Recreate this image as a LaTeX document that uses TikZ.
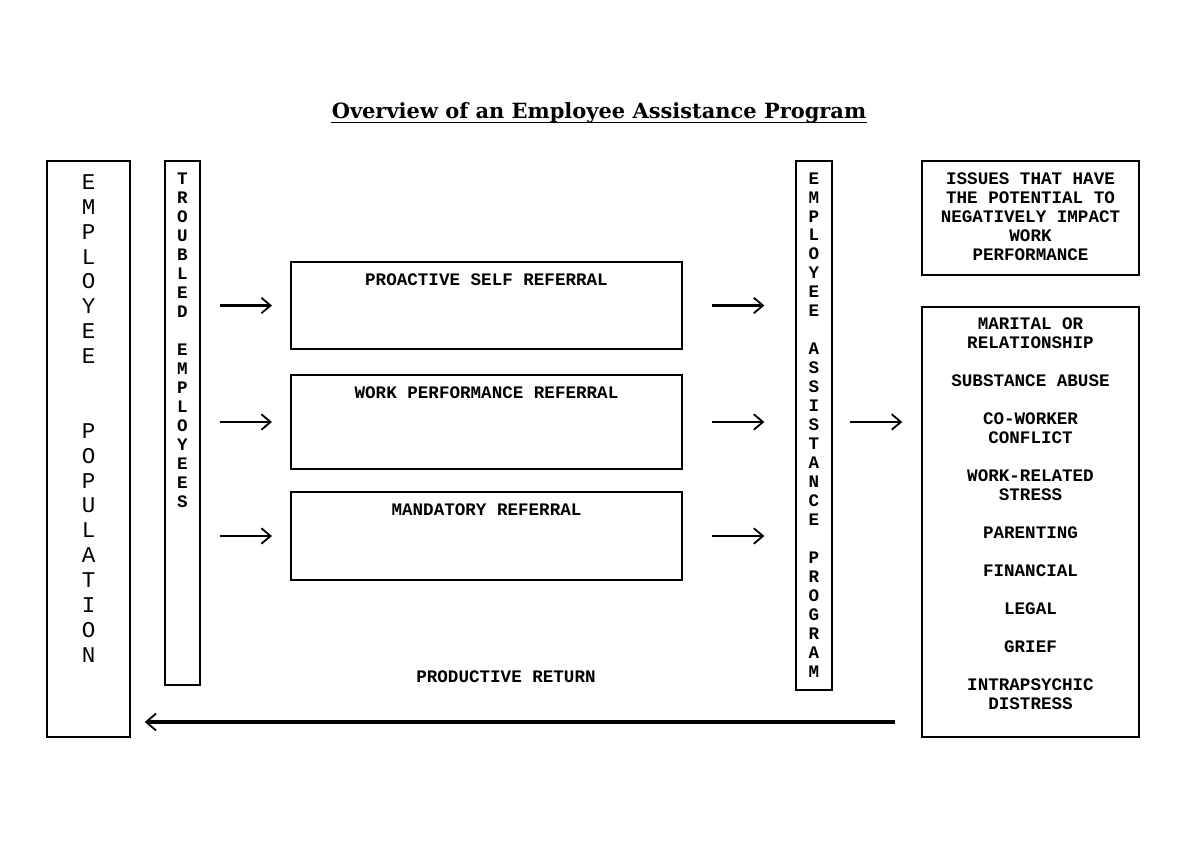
\documentclass[tikz,border=0pt]{standalone}
\usepackage{fontspec}
\setmainfont{Liberation Serif}
\newfontfamily\boxfont{Liberation Mono}
\newfontfamily\titlefont{DejaVu Serif}
\usetikzlibrary{positioning,arrows.meta}

\begin{document}
\begin{tikzpicture}[x=0.025cm,y=-0.025cm]
\tikzstyle{box}=[draw, line width=0.9pt, inner sep=0pt, outer sep=0pt]
\tikzstyle{boxtext}=[inner sep=0pt, align=center, font=\boxfont\bfseries\fontsize{12.5}{13.5}\selectfont]
\tikzstyle{bigtext}=[inner sep=0pt, align=center, font=\boxfont\fontsize{16}{17.7}\selectfont]
\tikzstyle{arr}=[-{Straight Barb[length=6.5pt,width=11pt,line width=1.3pt]}, line width=1.7pt]
\useasboundingbox (0,0) rectangle (1200,840);

% title
\node[inner sep=0pt, font=\titlefont\bfseries\fontsize{14.9}{17}\selectfont] (title) at (599,113)
  {Overview of an Employee Assistance Program};
\draw[line width=0.8pt] ([yshift=-3pt]title.base west) -- ([yshift=-3pt]title.base east);

% columns
\node[box, minimum width=2.075cm, minimum height=14.4cm] (pop) at (88.5,449) {};
\node[bigtext, below=9.5pt of pop.north] (poptext)
  {E\\M\\P\\L\\O\\Y\\E\\E\\[35.4pt]P\\O\\P\\U\\L\\A\\T\\I\\O\\N};

\node[box, line width=1.1pt, minimum width=0.875cm, minimum height=13.1cm] (tro) at (182.5,423) {};
\node[boxtext, below=8.5pt of tro.north] (trotext)
  {T\\R\\O\\U\\B\\L\\E\\D\\[13.5pt]E\\M\\P\\L\\O\\Y\\E\\E\\S};

\node[box, line width=1.1pt, minimum width=0.9cm, minimum height=13.225cm] (eap) at (814,425.5) {};
\node[boxtext, below=8pt of eap.north] (eaptext)
  {E\\M\\P\\L\\O\\Y\\E\\E\\[13.5pt]A\\S\\S\\I\\S\\T\\A\\N\\C\\E\\[13.5pt]P\\R\\O\\G\\R\\A\\M};

% referrals
\foreach \n/\y/\h/\t in {1/305.5/2.175cm/PROACTIVE SELF REFERRAL,
                         2/422/2.35cm/WORK PERFORMANCE REFERRAL,
                         3/536/2.2cm/MANDATORY REFERRAL} {
  \node[box, minimum width=9.775cm, minimum height=\h] (ref\n) at (486.5,\y) {};
  \node[boxtext, below=8pt of ref\n.north] (reftext\n) {\t};
  \draw[arr, shorten <=14pt, shorten >=13.5pt] (tro.east |- ref\n.west) -- (ref\n.west);
  \draw[arr, shorten <=21pt, shorten >=22.5pt] (ref\n.east) -- (eap.west |- ref\n.east);
}

% issues
\node[box, minimum width=5.425cm, minimum height=2.85cm] (iss) at (1030.5,218) {};
\node[boxtext, below=8.5pt of iss.north] (isstext)
  {ISSUES THAT HAVE\\THE POTENTIAL TO\\NEGATIVELY IMPACT\\WORK\\PERFORMANCE};

\node[box, minimum width=5.425cm, minimum height=10.75cm] (lst) at (1030.5,522) {};
\node[boxtext, below=7.8pt of lst.north] (lsttext)
  {MARITAL OR\\RELATIONSHIP\\[13.5pt]SUBSTANCE ABUSE\\[13.5pt]CO-WORKER\\CONFLICT\\[13.5pt]%
   WORK-RELATED\\STRESS\\[13.5pt]PARENTING\\[13.5pt]FINANCIAL\\[13.5pt]LEGAL\\[13.5pt]%
   GRIEF\\[13.5pt]INTRAPSYCHIC\\DISTRESS};

\draw[arr, shorten <=12.8pt, shorten >=14pt] (eap.east |- ref2.east) -- (lst.west |- ref2.east);

% return
\coordinate (ret) at (900,722);
\node[boxtext] (rettext) at (506,677) {PRODUCTIVE RETURN};
\draw[-{Straight Barb[length=7pt,width=12pt,line width=1.3pt]}, line width=2.3pt,
  shorten <=19pt, shorten >=10.5pt] (lst.west |- ret) -- (pop.east |- ret);
\end{tikzpicture}
\end{document}
